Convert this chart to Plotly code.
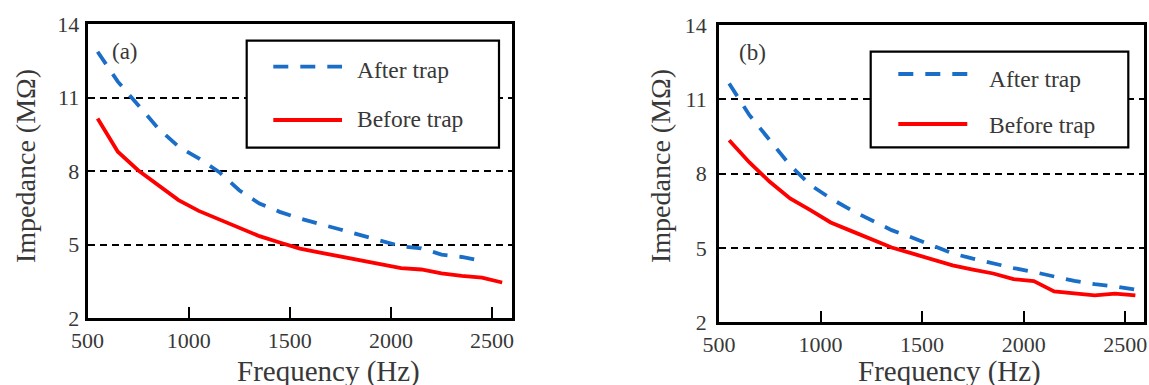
import plotly.graph_objects as go

W, H = 1149, 385

freq = [550, 650, 750, 850, 950, 1050, 1150, 1250, 1350, 1450, 1550,
        1650, 1750, 1850, 1950, 2050, 2150, 2250, 2350, 2450, 2550]

a_after = [12.87, 11.65, 10.70, 9.74, 9.00, 8.52, 7.97, 7.22, 6.68, 6.34,
           6.07, 5.86, 5.62, 5.39, 5.18, 4.94, 4.85, 4.60, 4.50, 4.34]
a_before = [10.15, 8.79, 8.04, 7.43, 6.82, 6.38, 6.04, 5.69, 5.35, 5.09,
            4.84, 4.68, 4.53, 4.37, 4.20, 4.05, 3.99, 3.83, 3.73, 3.66, 3.46]

b_after = [11.64, 10.36, 9.35, 8.34, 7.54, 7.00, 6.53, 6.12, 5.72, 5.42,
           5.11, 4.78, 4.57, 4.37, 4.19, 4.03, 3.86, 3.67, 3.54, 3.45, 3.32]
b_before = [9.35, 8.45, 7.67, 7.00, 6.53, 6.03, 5.69, 5.35, 5.02, 4.78,
            4.55, 4.30, 4.13, 3.97, 3.74, 3.66, 3.25, 3.16, 3.09, 3.16, 3.09]

y_ticks = [2, 5, 8, 11, 14]
x_ticks = [500, 1000, 1500, 2000, 2500]
series_names = ["After trap", "Before trap"]
panel_labels = ["(a)", "(b)"]
x_title = "Frequency (Hz)"
y_title = "Impedance (MΩ)"

BLUE = "#1a6ec8"
RED = "#ff0000"
TXT = "#383838"
FONT = "Liberation Serif"
DASH = "15px,12px"
LW = 3.8


def px(x):
    return x / W


def py(y):
    return (H - y) / H


fig = go.Figure()

fig.add_trace(go.Scatter(x=freq[:len(a_after)], y=a_after, mode="lines",
                         line=dict(color=BLUE, width=LW, dash=DASH),
                         xaxis="x", yaxis="y", showlegend=False))
fig.add_trace(go.Scatter(x=freq, y=a_before, mode="lines",
                         line=dict(color=RED, width=LW),
                         xaxis="x", yaxis="y", showlegend=False))
fig.add_trace(go.Scatter(x=freq, y=b_after, mode="lines",
                         line=dict(color=BLUE, width=LW, dash=DASH),
                         xaxis="x2", yaxis="y2", showlegend=False))
fig.add_trace(go.Scatter(x=freq, y=b_before, mode="lines",
                         line=dict(color=RED, width=LW),
                         xaxis="x2", yaxis="y2", showlegend=False))

xcommon = dict(tickvals=x_ticks, ticks="inside", ticklen=11, tickwidth=2,
               tickcolor="black", showline=True, linecolor="black",
               linewidth=2.7, mirror=True, showgrid=False, zeroline=False,
               tickfont=dict(family=FONT, size=22, color=TXT),
               ticklabelstandoff=0, automargin=False)
ycommon = dict(range=[2, 14], tickvals=y_ticks, ticks="", showline=True,
               linecolor="black", linewidth=2.7, mirror=True, showgrid=True,
               gridcolor="black", gridwidth=2, griddash="7px,5px",
               zeroline=False, automargin=False,
               tickfont=dict(family=FONT, size=22, color=TXT))

fig.update_layout(
    width=W, height=H,
    margin=dict(l=0, r=0, t=0, b=0),
    paper_bgcolor="white", plot_bgcolor="white",
    showlegend=False,
    xaxis=dict(domain=[px(87.5), px(512.3)], range=[500, 2600], anchor="y", **xcommon),
    yaxis=dict(domain=[py(318.3), py(24)], anchor="x", ticklabelstandoff=1, **ycommon),
    xaxis2=dict(domain=[px(719), px(1143.5)], range=[500, 2590], anchor="y2", **xcommon),
    yaxis2=dict(domain=[py(322.3), py(25)], anchor="x2", ticklabelstandoff=5, **ycommon),
)

annots = []
shapes = []

panels = [
    dict(lbl=(110, 51), xt=(328.5, 371), yt=(25, 166),
         box=(246.7, 40.7, 499, 147.7), line=(273.3, 342), text_x=355,
         rows=(66.7, 120), trows=(70, 119)),
    dict(lbl=(736.7, 52), xt=(949.7, 371), yt=(660, 166),
         box=(870.7, 51.7, 1128.3, 147.3), line=(898.3, 967.3), text_x=986.7,
         rows=(74, 124), trows=(79, 125)),
]

for i, p in enumerate(panels):
    annots.append(dict(text=panel_labels[i], x=px(p["lbl"][0]), y=py(p["lbl"][1]),
                       xref="paper", yref="paper", xanchor="left", yanchor="middle",
                       showarrow=False, font=dict(family=FONT, size=23, color=TXT)))
    annots.append(dict(text=x_title, x=px(p["xt"][0]), y=py(p["xt"][1]),
                       xref="paper", yref="paper", xanchor="center", yanchor="middle",
                       showarrow=False, font=dict(family=FONT, size=29, color=TXT)))
    annots.append(dict(text=y_title, x=px(p["yt"][0]), y=py(p["yt"][1]),
                       xref="paper", yref="paper", xanchor="center", yanchor="middle",
                       textangle=-90, showarrow=False,
                       font=dict(family=FONT, size=28, color=TXT)))
    x0, y0, x1, y1 = p["box"]
    shapes.append(dict(type="rect", xref="paper", yref="paper",
                       x0=px(x0), x1=px(x1), y0=py(y1), y1=py(y0),
                       line=dict(color="black", width=2.2), fillcolor="white",
                       layer="above"))
    for j, (name, col, dash) in enumerate(zip(series_names, [BLUE, RED],
                                               [DASH, "solid"])):
        yy = p["rows"][j]
        shapes.append(dict(type="line", xref="paper", yref="paper",
                           x0=px(p["line"][0]), x1=px(p["line"][1]),
                           y0=py(yy), y1=py(yy),
                           line=dict(color=col, width=LW, dash=dash),
                           layer="above"))
        annots.append(dict(text=name, x=px(p["text_x"]), y=py(p["trows"][j]),
                           xref="paper", yref="paper", xanchor="left",
                           yanchor="middle", showarrow=False,
                           font=dict(family=FONT, size=23.5, color=TXT)))

fig.update_layout(annotations=annots, shapes=shapes)

fig.write_html(
    "out.html",
    config={"displayModeBar": False},
    post_script="document.body.style.margin='0';"
                "document.body.style.overflow='hidden';"
                "document.documentElement.style.overflow='hidden';",
)
